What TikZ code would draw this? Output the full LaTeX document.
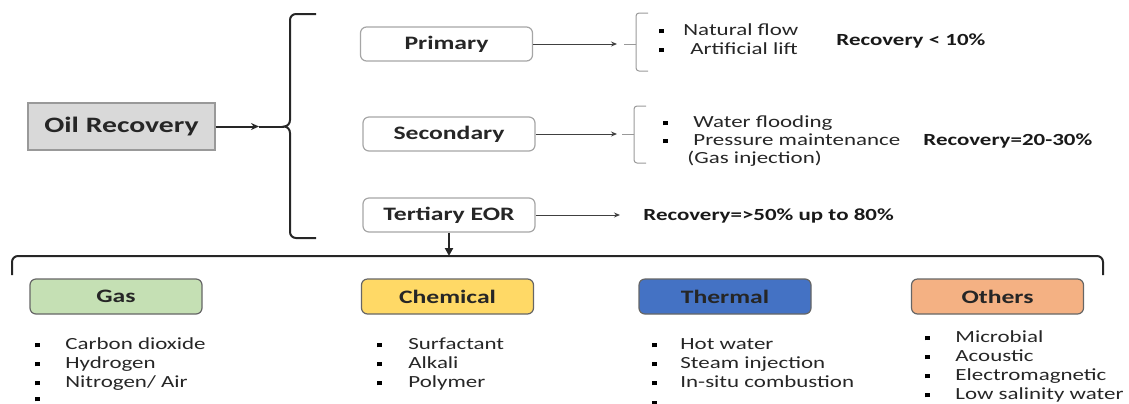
\documentclass[tikz,border=0pt]{standalone}
\usepackage{fontspec}
\setmainfont{Carlito}[FakeStretch=1.35]
\usetikzlibrary{arrows.meta}

\definecolor{gasgreen}{HTML}{C5E0B4}
\definecolor{chemyellow}{HTML}{FFD966}
\definecolor{thermblue}{HTML}{4472C4}
\definecolor{othorange}{HTML}{F4B183}

% square bullet followed by a fixed gap
\newcommand{\bul}[1][15pt]{\makebox[#1][l]{\textcolor{black}{\rule[0.25ex]{2.2pt}{2.2pt}}}}

\begin{document}
\begin{tikzpicture} [x=0.5pt, y=-0.5pt,
 every node/.style = {inner sep=0pt},
 stage/.style = {shape=rectangle, rounded corners=3pt, draw=black!35, line width=0.6pt,
   fill=white, minimum width=86pt, minimum height=17pt,
   font=\bfseries\fontsize{9.5}{11}\selectfont, text=black!85},
 method/.style = {stage, draw=black!60, minimum height=17.5pt},
 item/.style = {anchor=base west, font=\fontsize{8.5}{10}\selectfont, text=black!85},
 rate/.style = {anchor=base west, font=\bfseries\fontsize{8.5}{10}\selectfont, text=black!90},
 link/.style = {draw=black!75, line width=0.5pt, -{Stealth[length=3pt,width=2.5pt]}},
 bold link/.style = {draw=black!85, line width=1pt}]
 \useasboundingbox (0,0) rectangle (1129,403);
 \clip (0,0) rectangle (1129,403);

 % root
 \node [stage, rounded corners=0pt, fill=black!15, draw=black!40, minimum width=93.5pt,
   minimum height=23.5pt, font=\bfseries\fontsize{11}{13}\selectfont] (oil) at (121.5,126.5) {Oil Recovery};
 \coordinate (mid) at (259,126.5);
 \coordinate (tip) at (284,126.5);
 \draw [bold link, -{Stealth[length=4pt,width=3.5pt]}] (oil.east) -- (mid);
 \draw [bold link] (mid) -- (tip);
 \draw [bold link] (316,14) -- (296,14) to[out=180,in=90] (290,20) -- (290,120)
   to[out=-90,in=0] (tip) to[out=0,in=90] (290,133) -- (290,232)
   to[out=-90,in=180] (296,238) -- (316,238);

 % stages
 \node [stage] (prim) at (446.5,44) {Primary};
 \node [stage] (sec) at (449,134) {Secondary};
 \node [stage] (ter) at (449,215) {Tertiary EOR};

 % primary
 \coordinate (pin) at (617,44);
 \draw [link] (prim.east) -- (pin);
 \draw [black!40, line width=0.5pt, rounded corners=1.5pt] (648,13) -- (636,13) -- (636,71) -- (648,71);
 \draw [black!40, line width=0.5pt] (636,44) -- (624,44);
 \node [item] (p1) at (659,35.5) {\bul[12pt]Natural flow};
 \node [item] (p2) at (659,54.5) {\bul[15.5pt]Artificial lift};
 \node [rate] (r1) at (836,45.5) {Recovery < 10\%};

 % secondary
 \coordinate (sin) at (617,134);
 \draw [link] (sec.east) -- (sin);
 \draw [black!40, line width=0.5pt, rounded corners=1.5pt] (646,106) -- (634,106) -- (634,163) -- (646,163);
 \draw [black!40, line width=0.5pt] (634,134) -- (622,134);
 \node [item] (s1) at (663,127.5) {\bul Water flooding};
 \node [item] (s2) at (663,145.5) {\bul Pressure maintenance};
 \node [item] (s3) at (687,163.5) {(Gas injection)};
 \node [rate] (r2) at (923,145.5) {Recovery=20-30\%};

 % tertiary
 \coordinate (tin) at (620,215);
 \draw [link] (ter.east) -- (tin);
 \node [rate] (r3) at (643,220.5) {Recovery=>50\% up to 80\%};
 \coordinate (bar) at (449,256);
 \draw [bold link, -{Triangle[length=4pt,width=4pt]}] (ter.south) -- (bar);
 \draw [bold link] (12,275) -- (12,262) to[out=90,in=180] (18,256) -- (1097,256)
   to[out=0,in=90] (1103,262) -- (1103,275);

 % EOR methods
 \node [method, fill=gasgreen] (gas) at (116,296.5) {Gas};
 \node [method, fill=chemyellow] (chem) at (447.5,296.5) {Chemical};
 \node [method, fill=thermblue] (therm) at (725,296.5) {Thermal};
 \node [method, fill=othorange] (oth) at (997.5,296.5) {Others};

 \foreach \t [count=\i] in {Carbon dioxide, Hydrogen, Nitrogen/ Air}
   \node [item] (gas\i) at (35,330.5+19*\i) {\bul\t};
 \node [item] (gas4) at (35,403.5) {\bul};
 \foreach \t [count=\i] in {Surfactant, Alkali, Polymer}
   \node [item] (chem\i) at (377,330.5+19*\i) {\bul[15.5pt]\t};
 \foreach \t [count=\i] in {Hot water, Steam injection, In-situ combustion}
   \node [item] (therm\i) at (652,330.5+19*\i) {\bul[14pt]\t};
 \node [item] (therm4) at (652,407) {\bul};
 \foreach \t [count=\i] in {Microbial, Acoustic, Electromagnetic, Low salinity water}
   \node [item] (oth\i) at (925,323.5+19*\i) {\bul\t};
\end{tikzpicture}
\end{document}
